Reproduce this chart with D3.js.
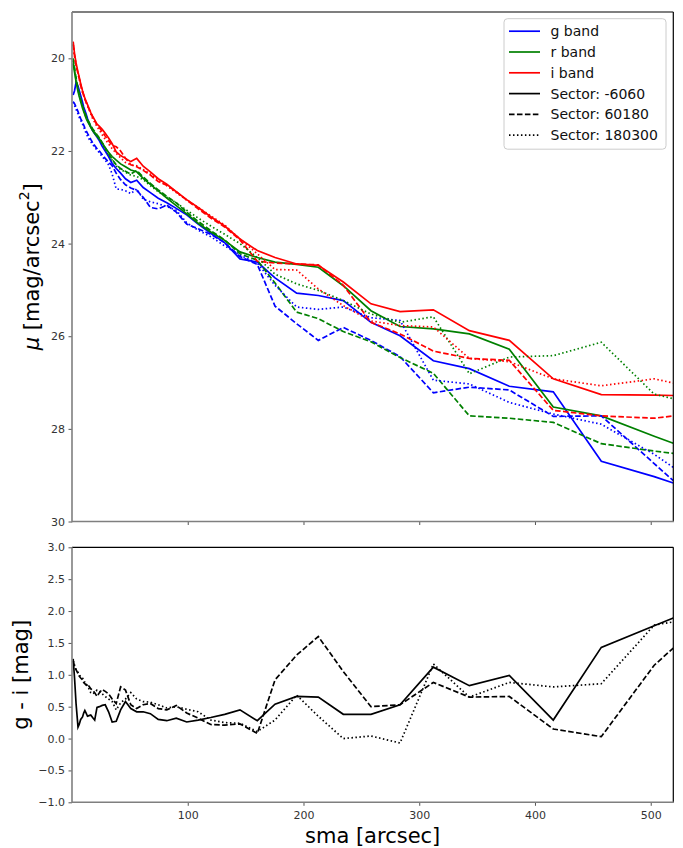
<!DOCTYPE html>
<html>
<head>
<meta charset="utf-8">
<script src="https://cdn.jsdelivr.net/npm/d3@7"></script>
<style>
  body { margin: 0; background: #fff; }
  svg text { font-family: "DejaVu Sans", sans-serif; }
</style>
</head>
<body>
<div id="container"></div>
<script>
/* CONSTANTS AND GLOBALS */
const width = 683,
  height = 848,
  plotLeft = 72,
  plotRight = 673.3,
  topBox = {top: 12, bottom: 521.5},
  botBox = {top: 547.3, bottom: 802.3};

/* DATA */
// semi-major axis samples [arcsec]
const sma = [1.0, 2.2, 3.5, 5.2, 6.2, 7.5, 9.1, 10.1, 11.1, 12.2, 13.4, 14.7, 16.2, 17.8, 19.6, 21.6,
  23.7, 26.1, 28.7, 31.6, 34.7, 38.2, 42.0, 46.2, 50.8, 55.9, 61.5, 67.7, 74.5, 81.9, 90.1, 99.1,
  109.0, 119.9, 131.9, 145.1, 160.1, 175.4, 194.1, 212.8, 234.4, 258.3, 283.4, 312.2, 343.3, 377.8,
  415.8, 457.3, 503.0, 519.5];

// surface brightness, sector -60..60
const g_m6060 = [20.79, 20.70, 20.52, 20.60, 20.69, 20.80, 20.95, 21.05, 21.12, 21.20, 21.30, 21.40, 21.48, 21.56, 21.63, 21.70,
  21.78, 21.90, 22.00, 22.12, 22.27, 22.38, 22.48, 22.60, 22.68, 22.63, 22.79, 22.90, 23.02, 23.12, 23.24, 23.38,
  23.58, 23.78, 23.98, 24.33, 24.40, 24.74, 25.07, 25.12, 25.23, 25.70, 25.99, 26.53, 26.70, 27.08,
  27.20, 28.70, 29.03, 29.17];
const r_m6060 = [20.11, 20.30, 20.50, 20.72, 20.82, 20.94, 21.08, 21.15, 21.22, 21.30, 21.36, 21.42, 21.49, 21.56, 21.62, 21.68,
  21.74, 21.83, 21.93, 22.03, 22.12, 22.20, 22.28, 22.34, 22.41, 22.45, 22.59, 22.72, 22.86, 23.02, 23.18, 23.36,
  23.56, 23.75, 23.93, 24.18, 24.30, 24.40, 24.45, 24.51, 24.91, 25.45, 25.79, 25.84, 25.95, 26.28,
  27.53, 27.72, 28.16, 28.31];
const i_m6060 = [19.64, 19.90, 20.10, 20.30, 20.40, 20.55, 20.70, 20.78, 20.86, 20.93, 21.00, 21.08, 21.17, 21.25, 21.33, 21.42,
  21.47, 21.53, 21.62, 21.72, 21.84, 22.02, 22.10, 22.16, 22.23, 22.16, 22.33, 22.45, 22.60, 22.72, 22.88, 23.05,
  23.22, 23.42, 23.62, 23.90, 24.15, 24.30, 24.44, 24.47, 24.83, 25.30, 25.47, 25.43, 25.88, 26.09,
  26.92, 27.26, 27.27, 27.28];

// sector 60..180
const g_60180 = [20.94, 20.98, 21.05, 21.15, 21.22, 21.30, 21.38, 21.44, 21.50, 21.56, 21.62, 21.68, 21.75, 21.82, 21.88, 21.95,
  22.00, 22.08, 22.16, 22.24, 22.32, 22.48, 22.62, 22.73, 22.80, 22.85, 23.00, 23.22, 23.25, 23.17, 23.32, 23.58,
  23.68, 23.80, 23.98, 24.28, 24.45, 25.35, 25.73, 26.09, 25.81, 26.09, 26.44, 27.22, 27.10, 27.16,
  27.73, 27.72, 28.75, 29.12];
const r_60180 = [20.00, 20.20, 20.42, 20.65, 20.76, 20.88, 21.02, 21.10, 21.17, 21.25, 21.32, 21.38, 21.45, 21.52, 21.58, 21.65,
  21.72, 21.82, 21.93, 22.06, 22.18, 22.30, 22.38, 22.44, 22.50, 22.42, 22.56, 22.70, 22.84, 22.98, 23.12, 23.32,
  23.52, 23.72, 23.92, 24.22, 24.36, 24.85, 25.48, 25.62, 25.90, 26.12, 26.46, 26.80, 27.72, 27.77,
  27.86, 28.32, 28.48, 28.53];
const i_60180 = [19.70, 19.95, 20.15, 20.33, 20.43, 20.58, 20.73, 20.80, 20.88, 20.95, 21.02, 21.10, 21.18, 21.27, 21.35, 21.44,
  21.50, 21.58, 21.68, 21.78, 21.88, 21.91, 22.00, 22.16, 22.30, 22.34, 22.42, 22.52, 22.66, 22.74, 22.88, 23.06,
  23.25, 23.45, 23.64, 23.92, 24.38, 24.42, 24.44, 24.46, 24.90, 25.70, 25.95, 26.32, 26.48, 26.52,
  27.60, 27.72, 27.77, 27.72];

// sector 180..300
const g_180300 = [20.94, 21.02, 21.10, 21.20, 21.27, 21.34, 21.42, 21.48, 21.55, 21.62, 21.68, 21.74, 21.80, 21.86, 21.92, 21.98,
  22.04, 22.12, 22.20, 22.30, 22.50, 22.82, 22.83, 22.86, 22.92, 22.82, 23.04, 23.10, 23.14, 23.20, 23.28, 23.55,
  23.71, 23.85, 24.05, 24.25, 24.42, 24.90, 25.37, 25.42, 25.37, 25.60, 25.66, 26.95, 27.03, 27.43,
  27.68, 27.90, 28.55, 28.83];
const r_180300 = [20.05, 20.25, 20.45, 20.68, 20.78, 20.90, 21.04, 21.12, 21.20, 21.27, 21.34, 21.40, 21.47, 21.54, 21.60, 21.67,
  21.75, 21.85, 21.96, 22.08, 22.20, 22.32, 22.40, 22.46, 22.52, 22.55, 22.62, 22.75, 22.88, 23.00, 23.12, 23.28,
  23.45, 23.62, 23.80, 24.00, 24.30, 24.66, 24.87, 25.01, 25.23, 25.52, 25.70, 25.58, 26.81, 26.45,
  26.42, 26.13, 27.25, 27.35];
const i_180300 = [19.70, 19.95, 20.15, 20.33, 20.43, 20.58, 20.73, 20.80, 20.88, 20.95, 21.02, 21.10, 21.20, 21.30, 21.38, 21.48,
  21.55, 21.65, 21.75, 21.85, 21.95, 22.05, 22.15, 22.25, 22.30, 22.32, 22.40, 22.50, 22.62, 22.75, 22.90, 23.06,
  23.22, 23.40, 23.60, 23.90, 24.22, 24.56, 24.57, 24.98, 25.34, 25.67, 25.77, 25.80, 26.48, 26.55,
  26.92, 27.07, 26.92, 27.01];

// g - i colour per sector
const gi_m6060 = [1.25, 0.95, 0.55, 0.18, 0.22, 0.30, 0.34, 0.40, 0.44, 0.40, 0.35, 0.36, 0.37, 0.33, 0.29, 0.49,
  0.50, 0.52, 0.53, 0.42, 0.26, 0.27, 0.45, 0.58, 0.47, 0.42, 0.42, 0.39, 0.30, 0.28, 0.32, 0.26,
  0.29, 0.33, 0.38, 0.45, 0.28, 0.54, 0.66, 0.65, 0.38, 0.38, 0.53, 1.12, 0.83, 0.99,
  0.29, 1.43, 1.77, 1.89];
const gi_60180 = [1.22, 1.12, 1.08, 1.02, 0.98, 0.95, 0.92, 0.88, 0.86, 0.84, 0.86, 0.82, 0.78, 0.76, 0.72, 0.66,
  0.72, 0.77, 0.74, 0.70, 0.62, 0.55, 0.81, 0.76, 0.53, 0.47, 0.53, 0.55, 0.47, 0.45, 0.52, 0.40,
  0.32, 0.22, 0.21, 0.23, 0.08, 0.92, 1.31, 1.60, 1.05, 0.50, 0.53, 0.88, 0.65, 0.66,
  0.15, 0.03, 1.15, 1.42];
const gi_180300 = [1.22, 1.15, 1.08, 1.04, 1.00, 0.97, 0.95, 0.92, 0.88, 0.86, 0.82, 0.78, 0.72, 0.70, 0.72, 0.76,
  0.74, 0.70, 0.66, 0.62, 0.58, 0.45, 0.56, 0.62, 0.72, 0.62, 0.58, 0.57, 0.53, 0.48, 0.50, 0.46,
  0.42, 0.29, 0.25, 0.24, 0.11, 0.29, 0.68, 0.35, 0.00, 0.04, -0.07, 1.17, 0.65, 0.88,
  0.81, 0.86, 1.78, 1.83];

const bandNames = ["g band", "r band", "i band"];
const bandColors = ["#0000ff", "#008000", "#ff0000"];
const sectorNames = ["Sector: -6060", "Sector: 60180", "Sector: 180300"];
const sectorDash = [null, "5.55,2.4", "1.5,2.48"];

const muSeries = [
  [g_m6060, r_m6060, i_m6060],
  [g_60180, r_60180, i_60180],
  [g_180300, r_180300, i_180300]
];
const giSeries = [gi_m6060, gi_60180, gi_180300];

const xTicks = [100, 200, 300, 400, 500];
const muTicks = [20, 22, 24, 26, 28, 30];
const giTicks = [-1, -0.5, 0, 0.5, 1, 1.5, 2, 2.5, 3];

/* SCALES */
const xScale = d3.scaleLinear().domain([0, 519.5]).range([plotLeft, plotRight]);
const yTop = d3.scaleLinear().domain([19, 30]).range([topBox.top, topBox.bottom]);
const yBot = d3.scaleLinear().domain([3, -1]).range([botBox.top, botBox.bottom]);

const svg = d3.select("#container").append("svg")
  .attr("width", width)
  .attr("height", height);

const defs = svg.append("defs");
defs.append("clipPath").attr("id", "clipTop").append("rect")
  .attr("x", plotLeft).attr("y", topBox.top)
  .attr("width", plotRight - plotLeft).attr("height", topBox.bottom - topBox.top);
defs.append("clipPath").attr("id", "clipBot").append("rect")
  .attr("x", plotLeft).attr("y", botBox.top)
  .attr("width", plotRight - plotLeft).attr("height", botBox.bottom - botBox.top);

/* LINES */
const lineTop = d3.line().x((d, i) => xScale(sma[i])).y(d => yTop(d));
const lineBot = d3.line().x((d, i) => xScale(sma[i])).y(d => yBot(d));

const gTop = svg.append("g").attr("clip-path", "url(#clipTop)");
muSeries.forEach((bands, s) => {
  bands.forEach((vals, b) => {
    gTop.append("path")
      .attr("d", lineTop(vals))
      .attr("fill", "none")
      .attr("stroke", bandColors[b])
      .attr("stroke-width", 1.7)
      .attr("stroke-dasharray", sectorDash[s]);
  });
});

const gBot = svg.append("g").attr("clip-path", "url(#clipBot)");
giSeries.forEach((vals, s) => {
  gBot.append("path")
    .attr("d", lineBot(vals))
    .attr("fill", "none")
    .attr("stroke", "#000")
    .attr("stroke-width", 1.7)
    .attr("stroke-dasharray", sectorDash[s]);
});

/* AXES */
const fmtGi = d => d3.format(".1f")(d).replace("-", "\u2212");

function styleAxis(g) {
  g.select(".domain").remove();
  g.selectAll(".tick line").attr("stroke", "#555").attr("stroke-width", 1);
  g.selectAll(".tick text").attr("fill", "#333").style("font-size", "11px")
    .style("font-family", "'DejaVu Sans', sans-serif");
}

svg.append("g").attr("transform", `translate(${plotLeft},0)`)
  .call(d3.axisLeft(yTop).tickValues(muTicks).tickSize(3.5).tickPadding(3.5))
  .call(styleAxis);
svg.append("g").attr("transform", `translate(0,${topBox.bottom})`)
  .call(d3.axisBottom(xScale).tickValues(xTicks).tickSize(3.5).tickFormat(""))
  .call(styleAxis);

svg.append("g").attr("transform", `translate(${plotLeft},0)`)
  .call(d3.axisLeft(yBot).tickValues(giTicks).tickFormat(fmtGi).tickSize(3.5).tickPadding(3.5))
  .call(styleAxis);
svg.append("g").attr("transform", `translate(0,${botBox.bottom})`)
  .call(d3.axisBottom(xScale).tickValues(xTicks).tickSize(3.5).tickPadding(5))
  .call(styleAxis);

// spines: left/bottom grey, top/right black
[topBox, botBox].forEach(box => {
  svg.append("line").attr("x1", plotLeft).attr("x2", plotRight)
    .attr("y1", box.top).attr("y2", box.top).attr("stroke", "#000").attr("stroke-width", 1.2);
  svg.append("line").attr("x1", plotRight).attr("x2", plotRight)
    .attr("y1", box.top).attr("y2", box.bottom).attr("stroke", "#000").attr("stroke-width", 1.2);
  svg.append("line").attr("x1", plotLeft).attr("x2", plotLeft)
    .attr("y1", box.top).attr("y2", box.bottom + 0.8).attr("stroke", "#7f7f7f").attr("stroke-width", 1.6);
  svg.append("line").attr("x1", plotLeft).attr("x2", plotRight + 0.6)
    .attr("y1", box.bottom).attr("y2", box.bottom).attr("stroke", "#7f7f7f").attr("stroke-width", 1.6);
});

/* LABELS */
const muLabel = svg.append("text")
  .attr("transform", `translate(32,${(topBox.top + topBox.bottom) / 2}) rotate(-90)`)
  .attr("text-anchor", "middle")
  .attr("dominant-baseline", "central")
  .style("font-size", "21px")
  .attr("fill", "#000");
muLabel.append("tspan").style("font-style", "italic").text("\u03bc");
muLabel.append("tspan").text(" [mag/arcsec");
muLabel.append("tspan").attr("dy", -8).style("font-size", "14px").text("2");
muLabel.append("tspan").attr("dy", 8).text("]");

svg.append("text")
  .attr("transform", `translate(21,${(botBox.top + botBox.bottom) / 2}) rotate(-90)`)
  .attr("text-anchor", "middle")
  .attr("dominant-baseline", "central")
  .style("font-size", "21px")
  .text("g - i [mag]");

svg.append("text")
  .attr("x", (plotLeft + plotRight) / 2)
  .attr("y", 843)
  .attr("text-anchor", "middle")
  .style("font-size", "21px")
  .text("sma [arcsec]");

/* LEGEND */
const legendItems = bandNames.map((n, i) => ({label: n, color: bandColors[i], dash: null}))
  .concat(sectorNames.map((n, i) => ({label: n, color: "#000", dash: sectorDash[i]})));

const legend = svg.append("g").attr("transform", "translate(504,18.7)");
legend.append("rect")
  .attr("width", 162).attr("height", 130.5)
  .attr("rx", 3.5)
  .attr("fill", "#fff").attr("fill-opacity", 0.8)
  .attr("stroke", "#cccccc").attr("stroke-width", 1);

const rows = legend.selectAll("g.row")
  .data(legendItems)
  .join("g")
  .attr("class", "row")
  .attr("transform", (d, i) => `translate(0,${12.5 + i * 20.8})`);
rows.append("line")
  .attr("x1", 5).attr("x2", 36)
  .attr("stroke", d => d.color)
  .attr("stroke-width", 1.7)
  .attr("stroke-dasharray", d => d.dash);
rows.append("text")
  .attr("x", 46.5)
  .attr("dominant-baseline", "central")
  .style("font-size", "14px")
  .attr("fill", "#111")
  .text(d => d.label);
</script>
</body>
</html>
